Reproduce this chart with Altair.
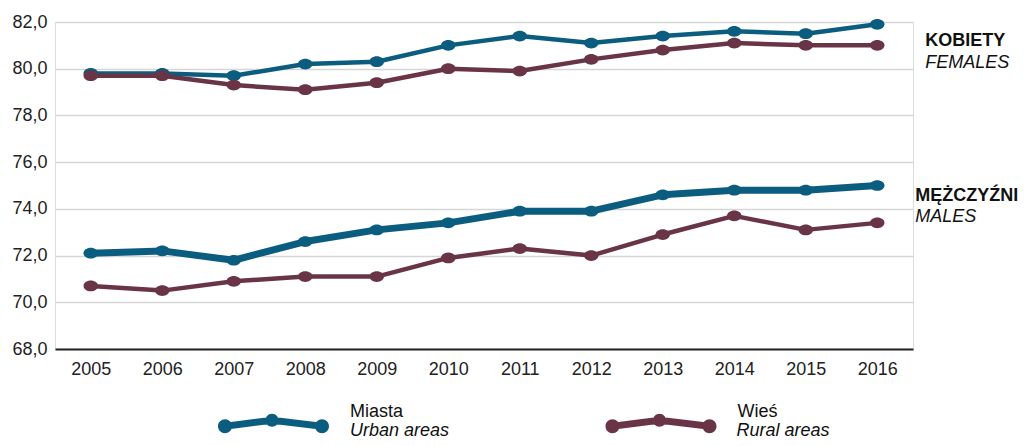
import altair as alt
import pandas as pd

years = [str(y) for y in range(2005, 2017)]
urban_females = [79.8, 79.8, 79.7, 80.2, 80.3, 81.0, 81.4, 81.1, 81.4, 81.6, 81.5, 81.9]
rural_females = [79.7, 79.7, 79.3, 79.1, 79.4, 80.0, 79.9, 80.4, 80.8, 81.1, 81.0, 81.0]
urban_males = [72.1, 72.2, 71.8, 72.6, 73.1, 73.4, 73.9, 73.9, 74.6, 74.8, 74.8, 75.0]
rural_males = [70.7, 70.5, 70.9, 71.1, 71.1, 71.9, 72.3, 72.0, 72.9, 73.7, 73.1, 73.4]

area_pl = ["Miasta", "Wieś"]
area_en = ["Urban areas", "Rural areas"]
y_ticks = [68, 70, 72, 74, 76, 78, 80, 82]

group_pl = ["KOBIETY", "MĘŻCZYŹNI"]
group_en = ["FEMALES", "MALES"]
group_sex = ["K", "M"]
anchor_pl = [81.17, 74.55]
anchor_en = [80.25, 73.64]

colors = ["#0b5d80", "#6a3447"]
FONT = "Liberation Sans"
FS = 18

series = {
    ("Miasta", "K"): urban_females,
    ("Miasta", "M"): urban_males,
    ("Wieś", "K"): rural_females,
    ("Wieś", "M"): rural_males,
}
rows = []
for a_pl, a_en in zip(area_pl, area_en):
    for sex in ["K", "M"]:
        for yr, v in zip(years, series[(a_pl, sex)]):
            rows.append({"year": yr, "value": v, "area": a_pl, "area_en": a_en, "sex": sex})
df = pd.DataFrame(rows)

ann = pd.DataFrame({"pl": group_pl, "en": group_en, "sex": group_sex,
                    "anchor_pl": anchor_pl, "anchor_en": anchor_en, "year": years[-1]})

x_enc = alt.X("year:O", scale=alt.Scale(type="point", padding=0.5),
              axis=alt.Axis(title=None, labelAngle=0, ticks=False, grid=False,
                            domainColor="#222222", domainWidth=2, labelPadding=11,
                            labelFontSize=FS, labelColor="#222222", labelFont=FONT))
y_enc = alt.Y("value:Q", scale=alt.Scale(domain=[68, 82], nice=False, zero=False),
              axis=alt.Axis(values=y_ticks, title=None, ticks=False, domain=False,
                            labelExpr="replace(format(datum.value, '.1f'), '.', ',')",
                            gridColor="#d6d6d6", gridWidth=1.5, labelPadding=8,
                            labelFontSize=FS, labelColor="#222222", labelFont=FONT))

# legend glyph (unit = 55 px)
glyph = ("M-0.882,0.199 L-0.027,0.090 L0.882,0.199 L0.882,0.327 L-0.027,0.218 L-0.882,0.327 Z "
         "M-1.009,0.263 A0.127,0.127 0 1,1 -0.755,0.263 A0.127,0.127 0 1,1 -1.009,0.263 Z "
         "M-0.145,0.154 A0.118,0.118 0 1,1 0.091,0.154 A0.118,0.118 0 1,1 -0.145,0.154 Z "
         "M0.755,0.263 A0.127,0.127 0 1,1 1.009,0.263 A0.127,0.127 0 1,1 0.755,0.263 Z")
marker = "M-1,0 A1,0.74 0 1,1 1,0 A1,0.74 0 1,1 -1,0 Z"

width_cond = alt.condition("datum.sex == 'M' && datum.area == 'Miasta'",
                           alt.value(7), alt.value(4.5))

line_layers = []
for a_pl, col in zip(area_pl, colors):
    line_layers.append(
        alt.Chart(df).transform_filter(alt.datum.area == a_pl)
        .mark_line(color=col, strokeCap="round", strokeJoin="round")
        .encode(x=x_enc, y=y_enc, detail="sex:N", strokeWidth=width_cond)
    )

points = alt.Chart(df).mark_point(shape=marker, filled=True, size=210, strokeWidth=0).encode(
    x=x_enc, y=y_enc,
    color=alt.Color("area:N", scale=alt.Scale(domain=area_pl, range=colors),
                    legend=alt.Legend(orient="none", legendX=163.5, legendY=334.5,
                                      direction="horizontal", title=None,
                                      symbolType=glyph, symbolSize=12100,
                                      symbolStrokeWidth=0, symbolOpacity=1,
                                      labelOffset=21.5, columnPadding=201.5, padding=0,
                                      labelFontSize=FS, labelFont=FONT,
                                      labelColor="#111111", labelLimit=400)),
    opacity=alt.Opacity("area_en:N", scale=alt.Scale(domain=area_en, range=[1, 1]),
                        legend=alt.Legend(orient="none", legendX=163.5, legendY=353.5,
                                          direction="horizontal", title=None,
                                          symbolType="M0,0 L0,0 Z", symbolSize=12100,
                                          symbolStrokeWidth=0,
                                          labelOffset=21.5, columnPadding=155.5, padding=0,
                                          labelFontSize=FS, labelFont=FONT,
                                          labelFontStyle="italic",
                                          labelColor="#111111", labelLimit=400)),
)

text_layers = []
for sex, dx in zip(group_sex, [48, 38]):
    base = alt.Chart(ann).transform_filter(alt.datum.sex == sex)
    text_layers.append(base.mark_text(
        align="left", baseline="middle", dx=dx, fontSize=FS, fontWeight="bold",
        font=FONT, color="#111111").encode(x="year:O", y="anchor_pl:Q", text="pl:N"))
    text_layers.append(base.mark_text(
        align="left", baseline="middle", dx=dx, fontSize=FS, fontStyle="italic",
        font=FONT, color="#111111").encode(x="year:O", y="anchor_en:Q", text="en:N"))

chart = alt.layer(*line_layers, points, *text_layers).properties(
    width=858, height=327,
    autosize=alt.AutoSizeParams(type="none"),
    padding={"left": 47, "top": 14, "right": 107, "bottom": 89},
).configure_view(stroke=None).configure(background="white")

chart.save("out.html", embed_options={"renderer": "svg", "actions": False})
